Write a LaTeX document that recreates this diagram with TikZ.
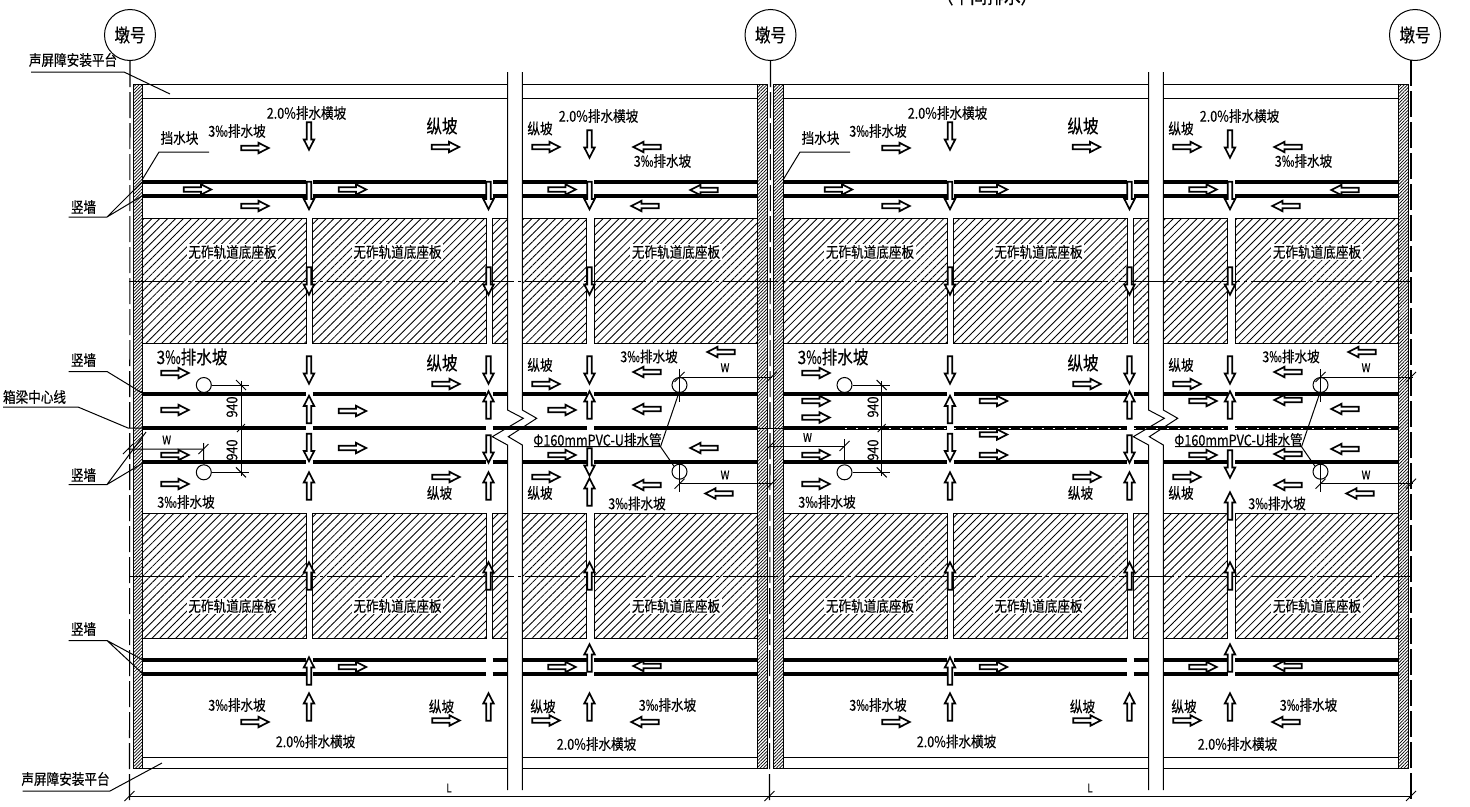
\documentclass[tikz,border=0pt]{standalone}
\usepackage{fontspec}
\setmainfont{Noto Sans CJK SC}[FakeStretch=.84,FakeBold=.25]
\usetikzlibrary{patterns.meta}
\newcommand{\arrowshape}{(-13.7,-2.2) -- (3.5,-2.2) -- (3.5,-5.2) -- (13.7,0) -- (3.5,5.2) -- (3.5,2.2) -- (-13.7,2.2) -- cycle}
\tikzset{
  slopeline/.style={line width=1.7,fill=white,line join=miter},
  pics/rarr/.style={code={\draw[slopeline] \arrowshape;}},
  pics/larr/.style={code={\draw[slopeline,rotate=180] \arrowshape;}},
  pics/uarr/.style={code={\draw[slopeline,rotate=90] \arrowshape;}},
  pics/darr/.style={code={\draw[slopeline,rotate=-90] \arrowshape;}},
  lbl/.style={inner sep=0,font=\fontsize{15}{17}\selectfont},
  lblbig/.style={inner sep=0,font=\fontsize{18.5}{20}\selectfont},
  lbldim/.style={inner sep=0,font=\fontsize{12}{14}\selectfont},
  slablbl/.style={lbl,fill=white,inner sep=1.5},
  pier/.style={circle,draw,line width=1,minimum size=51,inner sep=0,font=\fontsize{18.5}{20}\selectfont},
  drain/.style={circle,draw,line width=1,minimum size=15,inner sep=0},
  slab/.style={draw,line width=.9,pattern={Lines[angle=45,distance=5.6pt,line width=.85pt]}},
  wallhatch/.style={draw,line width=.9,pattern={Lines[angle=45,distance=2.3pt,line width=.7pt]}},
  curb/.style={line width=4.5},
  fine/.style={line width=1},
  axis/.style={line width=1.1,dash pattern=on 26pt off 5pt},
  trackaxis/.style={line width=.8,dash pattern=on 55pt off 4pt on 3pt off 4pt},
}
\begin{document}
\begin{tikzpicture}[x=1pt,y=-1pt]
\useasboundingbox (0,0) rectangle (1470,806);
\node[lbl,font=\fontsize{20}{22}\selectfont] (title) at (987,-4) {（中间排水）};

\node[pier] (pierA) at (130,35) {墩号};
\node[pier] (pierB) at (770.5,35) {墩号};
\node[pier] (pierC) at (1415,35) {墩号};
\coordinate (footA) at (129.5,802);
\coordinate (footB) at (769.5,802);
\coordinate (footC) at (1411,802);
\draw[axis] (pierA.south) -- (footA);
\draw[axis] (pierB.south) -- (footB);
\draw[axis] (1411,60) -- (footC);

\draw[wallhatch] (133,84.5) rectangle (142,768);
\draw[wallhatch] (757.5,84.5) rectangle (767,768);
\draw[wallhatch] (773,84.5) rectangle (783,768);
\draw[wallhatch] (1398.5,84.5) rectangle (1408,768);

\draw[fine] (142,84.5) -- (507.5,84.5) (522.3,84.5) -- (757.5,84.5) (783,84.5) -- (1148.5,84.5) (1163.3,84.5) -- (1398.5,84.5);
\draw[fine] (142,98.7) -- (507.5,98.7) (522.3,98.7) -- (757.5,98.7) (783,98.7) -- (1148.5,98.7) (1163.3,98.7) -- (1398.5,98.7);
\draw[fine] (142,757) -- (507.5,757) (522.3,757) -- (757.5,757) (783,757) -- (1148.5,757) (1163.3,757) -- (1398.5,757);
\draw[fine] (142,768) -- (507.5,768) (522.3,768) -- (757.5,768) (783,768) -- (1148.5,768) (1163.3,768) -- (1398.5,768);

\draw[slab] (142,218) rectangle (306,343);
\draw[slab] (312.7,218) rectangle (486,343);
\draw[slab] (492.7,218) rectangle (507.5,343);
\draw[slab] (522.3,218) rectangle (586.7,343);
\draw[slab] (594,218) rectangle (757.5,343);
\draw[slab] (783,218) rectangle (947,343);
\draw[slab] (953.7,218) rectangle (1127,343);
\draw[slab] (1133.7,218) rectangle (1148.5,343);
\draw[slab] (1163.3,218) rectangle (1227.7,343);
\draw[slab] (1235,218) rectangle (1398.5,343);
\draw[slab] (142,513) rectangle (306,638);
\draw[slab] (312.7,513) rectangle (486,638);
\draw[slab] (492.7,513) rectangle (507.5,638);
\draw[slab] (522.3,513) rectangle (586.7,638);
\draw[slab] (594,513) rectangle (757.5,638);
\draw[slab] (783,513) rectangle (947,638);
\draw[slab] (953.7,513) rectangle (1127,638);
\draw[slab] (1133.7,513) rectangle (1148.5,638);
\draw[slab] (1163.3,513) rectangle (1227.7,638);
\draw[slab] (1235,513) rectangle (1398.5,638);

\draw[trackaxis] (129,281) -- (1411,281);
\draw[trackaxis] (129,576) -- (1411,576);

\draw[curb] (142,182) -- (306,182) (312.7,182) -- (486,182) (492.7,182) -- (507.5,182) (522.3,182) -- (586.7,182) (594,182) -- (757.5,182);
\draw[curb] (783,182) -- (947,182) (953.7,182) -- (1127,182) (1133.7,182) -- (1148.5,182) (1163.3,182) -- (1227.7,182) (1235,182) -- (1398.5,182);
\draw[curb] (142,196) -- (306,196) (312.7,196) -- (486,196) (492.7,196) -- (507.5,196) (522.3,196) -- (586.7,196) (594,196) -- (757.5,196);
\draw[curb] (783,196) -- (947,196) (953.7,196) -- (1127,196) (1133.7,196) -- (1148.5,196) (1163.3,196) -- (1227.7,196) (1235,196) -- (1398.5,196);
\draw[curb] (142,394) -- (306,394) (312.7,394) -- (486,394) (492.7,394) -- (507.5,394) (522.3,394) -- (586.7,394) (594,394) -- (757.5,394);
\draw[curb] (783,394) -- (947,394) (953.7,394) -- (1127,394) (1133.7,394) -- (1148.5,394) (1163.3,394) -- (1227.7,394) (1235,394) -- (1398.5,394);
\draw[curb] (142,428) -- (306,428) (312.7,428) -- (486,428) (492.7,428) -- (586.7,428) (594,428) -- (757.5,428);
\draw[curb] (783,428) -- (947,428) (953.7,428) -- (1127,428) (1133.7,428) -- (1227.7,428) (1235,428) -- (1398.5,428);
\draw[white,line width=1,dash pattern=on 2pt off 9pt] (845,428) -- (947,428) (953.7,428) -- (1127,428) (1133.7,428) -- (1227.7,428) (1235,428) -- (1398.5,428);
\draw[line width=1] (757.5,428) -- (783,428);
\draw[curb] (142,462) -- (306,462) (312.7,462) -- (486,462) (492.7,462) -- (507.5,462) (522.3,462) -- (586.7,462) (594,462) -- (757.5,462);
\draw[curb] (783,462) -- (947,462) (953.7,462) -- (1127,462) (1133.7,462) -- (1148.5,462) (1163.3,462) -- (1227.7,462) (1235,462) -- (1398.5,462);
\draw[curb] (142,660) -- (306,660) (312.7,660) -- (486,660) (492.7,660) -- (507.5,660) (522.3,660) -- (586.7,660) (594,660) -- (757.5,660);
\draw[curb] (783,660) -- (947,660) (953.7,660) -- (1127,660) (1133.7,660) -- (1148.5,660) (1163.3,660) -- (1227.7,660) (1235,660) -- (1398.5,660);
\draw[curb] (142,674) -- (306,674) (312.7,674) -- (486,674) (492.7,674) -- (507.5,674) (522.3,674) -- (586.7,674) (594,674) -- (757.5,674);
\draw[curb] (783,674) -- (947,674) (953.7,674) -- (1127,674) (1133.7,674) -- (1148.5,674) (1163.3,674) -- (1227.7,674) (1235,674) -- (1398.5,674);

\draw[fine] (507.5,72) -- (507.5,410) -- (523.3,418.3) -- (492.3,436.7) -- (507.5,445) -- (507.5,790);
\draw[fine] (522.3,72) -- (522.3,410) -- (536.7,418.3) -- (508.3,436.7) -- (522.3,445) -- (522.3,790);
\draw[fine] (1148.5,72) -- (1148.5,410) -- (1164.3,418.3) -- (1133.3,436.7) -- (1148.5,445) -- (1148.5,790);
\draw[fine] (1163.3,72) -- (1163.3,410) -- (1177.7,418.3) -- (1149.3,436.7) -- (1163.3,445) -- (1163.3,790);

\pic at (255,148) {rarr}; \pic at (197.5,189.5) {rarr}; \pic at (255,206) {rarr}; \pic at (352.5,189.5) {rarr};
\pic at (445.5,147) {rarr}; \pic at (546,147) {rarr}; \pic at (562,189.5) {rarr};
\pic at (647,147) {larr}; \pic at (704,190) {larr}; \pic at (645,206) {larr};
\pic at (309,136) {darr}; \pic at (309,195.5) {darr}; \pic at (309,281) {darr};
\pic at (488.5,195.5) {darr}; \pic at (488.5,281) {darr};
\pic at (589.5,144) {darr}; \pic at (589.5,195.5) {darr}; \pic at (589.5,281) {darr};

\pic at (175,373) {rarr}; \pic at (175,410) {rarr}; \pic at (175,455) {rarr}; \pic at (175,484) {rarr};
\pic at (352.5,411) {rarr}; \pic at (352.5,448) {rarr};
\pic at (446,384) {rarr}; \pic at (546,384) {rarr}; \pic at (562,410) {rarr}; \pic at (562,455) {rarr};
\pic at (446,477) {rarr}; \pic at (546,477) {rarr};
\pic at (721,352) {larr}; \pic at (647,372) {larr}; \pic at (647,409) {larr};
\pic at (704,448) {larr}; \pic at (647,485) {larr}; \pic at (719,493.5) {larr};
\pic at (309,370) {darr}; \pic at (309,447.5) {darr}; \pic at (488.5,370) {darr}; \pic at (488.5,449) {darr};
\pic at (589.5,370) {darr}; \pic at (589.5,462) {darr};
\pic at (309,409.5) {uarr}; \pic at (309,486) {uarr}; \pic at (488.5,405) {uarr}; \pic at (488.5,486) {uarr};
\pic at (589.5,405) {uarr}; \pic at (589.5,492) {uarr};

\pic at (309,576) {uarr}; \pic at (488.5,576) {uarr}; \pic at (589.5,576) {uarr};
\pic at (309,671) {uarr}; \pic at (309,707) {uarr}; \pic at (488.5,707) {uarr}; \pic at (589.5,658) {uarr}; \pic at (589.5,707) {uarr};
\pic at (352.5,667) {rarr}; \pic at (562,667) {rarr}; \pic at (255,722) {rarr}; \pic at (446,720.5) {rarr}; \pic at (546,720.5) {rarr};
\pic at (647,666) {larr}; \pic at (645,722) {larr};

\pic at (896,148) {rarr}; \pic at (838.5,189.5) {rarr}; \pic at (896,206) {rarr}; \pic at (993.5,189.5) {rarr};
\pic at (1086.5,147) {rarr}; \pic at (1187,147) {rarr}; \pic at (1203,189.5) {rarr};
\pic at (1288,147) {larr}; \pic at (1345,190) {larr}; \pic at (1286,206) {larr};
\pic at (950,136) {darr}; \pic at (950,195.5) {darr}; \pic at (950,281) {darr};
\pic at (1129.5,195.5) {darr}; \pic at (1129.5,281) {darr};
\pic at (1230,144) {darr}; \pic at (1230,195.5) {darr}; \pic at (1230,281) {darr};

\pic at (816,373) {rarr}; \pic at (816,401) {rarr}; \pic at (816,417.5) {rarr}; \pic at (816,455) {rarr}; \pic at (816,484) {rarr};
\pic at (993.5,401) {rarr}; \pic at (993.5,434.5) {rarr}; \pic at (993.5,455) {rarr};
\pic at (1087,384) {rarr}; \pic at (1187,384) {rarr}; \pic at (1203,401) {rarr}; \pic at (1203,455) {rarr};
\pic at (1087,477) {rarr}; \pic at (1187,477) {rarr};
\pic at (1362,352) {larr}; \pic at (1288,372) {larr}; \pic at (1288,400) {larr}; \pic at (1345,409) {larr};
\pic at (1345,449) {larr}; \pic at (1288,454) {larr}; \pic at (1288,485) {larr}; \pic at (1360,493.5) {larr};
\pic at (950,370) {darr}; \pic at (950,447.5) {darr}; \pic at (1129.5,370) {darr}; \pic at (1129.5,449) {darr};
\pic at (1230,370) {darr}; \pic at (1230,464) {darr};
\pic at (950,409.5) {uarr}; \pic at (950,486) {uarr}; \pic at (1129.5,405) {uarr}; \pic at (1129.5,486) {uarr};
\pic at (1230,405) {uarr}; \pic at (1230,506) {uarr};

\pic at (950,576) {uarr}; \pic at (1129.5,576) {uarr}; \pic at (1230,576) {uarr};
\pic at (950,671) {uarr}; \pic at (950,707) {uarr}; \pic at (1129.5,707) {uarr}; \pic at (1230,658) {uarr}; \pic at (1230,707) {uarr};
\pic at (993.5,667) {rarr}; \pic at (1203,667) {rarr}; \pic at (896,722) {rarr}; \pic at (1087,720.5) {rarr}; \pic at (1187,720.5) {rarr};
\pic at (1288,666) {larr}; \pic at (1286,722) {larr};

\node[slablbl] (slabA) at (232.5,252) {无砟轨道底座板};
\node[slablbl] (slabB) at (397.5,252) {无砟轨道底座板};
\node[slablbl] (slabC) at (676,252) {无砟轨道底座板};
\node[slablbl] (slabD) at (870,252) {无砟轨道底座板};
\node[slablbl] (slabE) at (1038.5,252) {无砟轨道底座板};
\node[slablbl] (slabF) at (1317,252) {无砟轨道底座板};
\node[slablbl] (slabG) at (232.5,606) {无砟轨道底座板};
\node[slablbl] (slabH) at (397.5,606) {无砟轨道底座板};
\node[slablbl] (slabI) at (676,606) {无砟轨道底座板};
\node[slablbl] (slabJ) at (870,606) {无砟轨道底座板};
\node[slablbl] (slabK) at (1038.5,606) {无砟轨道底座板};
\node[slablbl] (slabL) at (1317,606) {无砟轨道底座板};

\node[lbl] (fallA) at (237,131) {3‰排水坡};
\node[lbl] (crossA) at (306.5,113) {2.0\%排水横坡};
\node[lblbig] (longA) at (442,126) {纵坡};
\node[lbl] (longB) at (540,128.5) {纵坡};
\node[lbl] (crossB) at (598.5,116) {2.0\%排水横坡};
\node[lbl] (fallB) at (662.5,161) {3‰排水坡};
\node[lblbig] (fallC) at (192,357) {3‰排水坡};
\node[lbl] (fallD) at (186,502) {3‰排水坡};
\node[lblbig] (longC) at (442,363) {纵坡};
\node[lbl] (longD) at (540,365) {纵坡};
\node[lbl] (longE) at (439.5,493) {纵坡};
\node[lbl] (longF) at (540,493) {纵坡};
\node[lbl] (fallE) at (649,356.5) {3‰排水坡};
\node[lbl] (fallF) at (637,503.5) {3‰排水坡};
\node[lbl] (fallG) at (237,705) {3‰排水坡};
\node[lbl] (crossC) at (315.5,741.5) {2.0\%排水横坡};
\node[lbl] (longG) at (441.5,706.5) {纵坡};
\node[lbl] (longH) at (543,706.5) {纵坡};
\node[lbl] (fallH) at (667.5,705) {3‰排水坡};
\node[lbl] (crossD) at (596.5,744) {2.0\%排水横坡};

\node[lbl] (fallI) at (878,131) {3‰排水坡};
\node[lbl] (crossE) at (947.5,113) {2.0\%排水横坡};
\node[lblbig] (longI) at (1083,126) {纵坡};
\node[lbl] (longJ) at (1181,128.5) {纵坡};
\node[lbl] (crossF) at (1239.5,116) {2.0\%排水横坡};
\node[lbl] (fallJ) at (1303.5,161) {3‰排水坡};
\node[lblbig] (fallK) at (833,357) {3‰排水坡};
\node[lbl] (fallL) at (827,502) {3‰排水坡};
\node[lblbig] (longK) at (1083,363) {纵坡};
\node[lbl] (longL) at (1181,365) {纵坡};
\node[lbl] (longM) at (1080.5,493) {纵坡};
\node[lbl] (longN) at (1181,493) {纵坡};
\node[lbl] (fallM) at (1291,356.5) {3‰排水坡};
\node[lbl] (fallN) at (1277,503.5) {3‰排水坡};
\node[lbl] (fallO) at (878,705) {3‰排水坡};
\node[lbl] (crossG) at (956.5,741.5) {2.0\%排水横坡};
\node[lbl] (longO) at (1082.5,706.5) {纵坡};
\node[lbl] (longP) at (1184,706.5) {纵坡};
\node[lbl] (fallP) at (1308.5,705) {3‰排水坡};
\node[lbl] (crossH) at (1237.5,744) {2.0\%排水横坡};

\node[lbl] (deckA) at (73,60) {声屏障安装平台};
\draw[fine] (31,72) -- (124,72) -- (170,94);
\node[lbl] (deckB) at (65.5,779) {声屏障安装平台};
\draw[fine] (22.7,791) -- (110,791) -- (162,763);
\node[lbl] (stopA) at (179.5,138) {挡水块};
\draw[fine] (209,152) -- (159,152) -- (142,180);
\node[lbl] (stopB) at (820.5,138) {挡水块};
\draw[fine] (850,152) -- (800,152) -- (783,180);
\node[lbl] (wallA) at (83.5,207) {竖墙};
\draw[fine] (68.7,217) -- (107,217) -- (142,182) (107,217) -- (142,196);
\node[lbl] (wallB) at (83.5,360) {竖墙};
\draw[fine] (68.7,371.5) -- (107,371.5) -- (143,393.5);
\node[lbl] (beamA) at (34.5,397) {箱梁中心线};
\draw[fine] (3,407) -- (78,407) -- (128,428) -- (142,428);
\node[lbl] (wallC) at (83.5,475) {竖墙};
\draw[fine] (68.7,484.5) -- (107,484.5) -- (146,432) (107,484.5) -- (143,463);
\node[lbl] (wallD) at (83.5,629) {竖墙};
\draw[fine] (68.7,640.5) -- (107,640.5) -- (143,660) (107,640.5) -- (143,674);

\node[drain] (drainA) at (203.8,385) {};
\node[drain] (drainB) at (203.8,472.3) {};
\node[drain] (drainC) at (679.5,385) {};
\node[drain] (drainD) at (679.5,471.7) {};
\node[drain] (drainE) at (844.5,385) {};
\node[drain] (drainF) at (844.5,472.3) {};
\node[drain] (drainG) at (1320.5,385) {};
\node[drain] (drainH) at (1320.5,471.7) {};

\draw[fine] (drainA.east) -- (249,385) (drainB.east) -- (249,472.3) (241,381) -- (241,476);
\draw[fine] (236,380) -- ++(10,10) (236,467.3) -- ++(10,10) (237,432) -- ++(8,-8);
\node[lbl,rotate=90] (dimA) at (232,407) {940};
\node[lbl,rotate=90] (dimB) at (232,450) {940};
\draw[fine] (128,449) -- (203.5,449) (203.5,443) -- (drainB.north);
\draw[fine] (123,454) -- ++(10,-10) (198.5,454) -- ++(10,-10);
\node[lbldim] (widthA) at (166.7,440) {W};

\draw[fine] (drainE.east) -- (890,385) (drainF.east) -- (890,472.3) (881.7,381) -- (881.7,476);
\draw[fine] (876.7,380) -- ++(10,10) (876.7,467.3) -- ++(10,10) (877.7,432) -- ++(8,-8);
\node[lbl,rotate=90] (dimC) at (873,407) {940};
\node[lbl,rotate=90] (dimD) at (873,450) {940};
\draw[fine] (770,446) -- (844.5,446) (844.5,439) -- (drainF.north);
\draw[fine] (765,451) -- ++(10,-10) (839.5,451) -- ++(10,-10);
\node[lbldim] (widthB) at (807.5,437.5) {W};

\draw[fine] (679.5,377) -- (771.7,377) (679.5,369) -- (679.5,402);
\draw[fine] (679.5,483.7) -- (771.7,483.7) (679.5,465) -- (679.5,491.7);
\draw[fine] (674.5,382) -- ++(10,-10) (766.5,382) -- ++(10,-10) (674.5,488.7) -- ++(10,-10) (766.5,488.7) -- ++(10,-10);
\node[lbldim] (widthC) at (725,367.7) {W};
\node[lbldim] (widthD) at (725,475) {W};
\node[lbl] (pipeA) at (597.5,440) {Φ160mmPVC-U排水管};
\coordinate (pipeAk) at (660.5,446.7);
\draw[fine] (534,446.7) -- (pipeAk) -- (679.5,391) (pipeAk) -- (drainD.north west);

\draw[fine] (1320.5,369) -- (1320.5,402);
\draw[fine] (1320.5,377) -- (1413,377) (1320.5,465) -- (1320.5,491.7) (1320.5,483.7) -- (1413,483.7);
\draw[fine] (1315.5,382) -- ++(10,-10) (1406,382) -- ++(10,-10) (1315.5,488.7) -- ++(10,-10) (1406,488.7) -- ++(10,-10);
\node[lbldim] (widthE) at (1366,367.7) {W};
\node[lbldim] (widthF) at (1366,475) {W};
\node[lbl] (pipeB) at (1238.5,440) {Φ160mmPVC-U排水管};
\coordinate (pipeBk) at (1301.5,446.7);
\draw[fine] (1175,446.7) -- (pipeBk) -- (1320.5,391) (pipeBk) -- (drainH.north west);

\draw[fine] (129.5,796) -- (1411,796);
\draw[fine] (124.5,801) -- ++(10,-10) (764.5,801) -- ++(10,-10) (1406,801) -- ++(10,-10);
\node[lbldim] (spanA) at (449,788) {L};
\node[lbldim] (spanB) at (1090,788) {L};
\end{tikzpicture}
\end{document}
